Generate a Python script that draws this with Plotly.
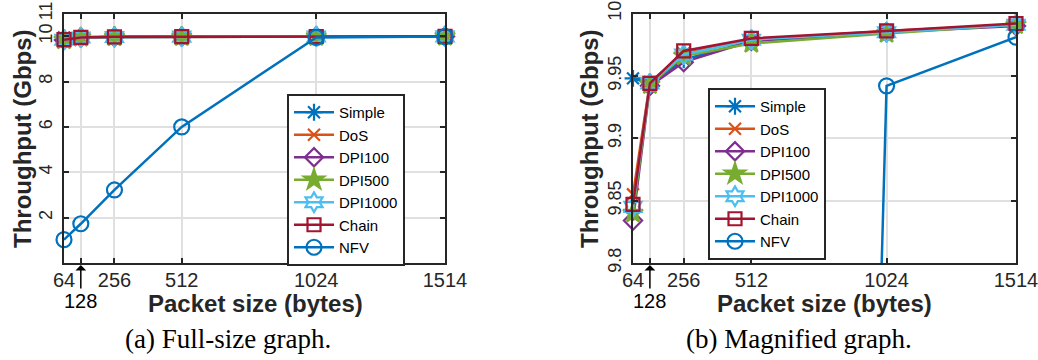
import plotly.graph_objects as go

sizes = [64, 128, 256, 512, 1024, 1514]
simple = [9.948, 9.944, 9.963, 9.978, 9.985, 9.991]
dos = [9.855, 9.945, 9.968, 9.979, 9.986, 9.991]
dpi100 = [9.834, 9.942, 9.961, 9.978, 9.985, 9.990]
dpi500 = [9.840, 9.943, 9.966, 9.976, 9.984, 9.991]
dpi1000 = [9.845, 9.944, 9.967, 9.979, 9.985, 9.991]
chain = [9.847, 9.944, 9.970, 9.980, 9.986, 9.992]
nfv = [1.03, 1.73, 3.22, 6.0, 9.942, 9.981]

x_tickvals = [64, 128, 256, 512, 1024, 1514]
x_ticktext = ["64", "", "256", "512", "1024", "1514"]
y1_tickvals = [2, 4, 6, 8, 10, 11]
y2_tickvals = [9.8, 9.85, 9.9, 9.95, 10]
y2_ticktext = ["9.8", "9.85", "9.9", "9.95", "10"]

names = ["Simple", "DoS", "DPI100", "DPI500", "DPI1000", "Chain", "NFV"]
series = [simple, dos, dpi100, dpi500, dpi1000, chain, nfv]
colors = ["#0072BD", "#D95319", "#7E2F8E", "#77AC30", "#4DBEEE", "#A2142F", "#0072BD"]
symbols = ["asterisk-open", "x-thin-open", "diamond-open", "star", "hexagram-open",
           "square-open", "circle-open"]
msizes = [14, 12, 14, 15, 15, 13, 15]

# body margin is removed by the post script, so the figure fills the window
OFF = 0
W, H = 1038 - OFF, 360 - OFF
FONT = "Liberation Sans, Arial, sans-serif"
SERIF = "Liberation Serif, DejaVu Serif, serif"
AX = "#262626"

fig = go.Figure()

for side, (xa, ya, leg) in enumerate([("x", "y", "legend"), ("x2", "y2", "legend2")]):
    for i, (n, s) in enumerate(zip(names, series)):
        clip = (side == 1 and n == "NFV")
        fig.add_trace(go.Scatter(
            x=sizes, y=s, name=n, mode="lines+markers",
            xaxis=xa, yaxis=ya, legend=leg,
            line=dict(color=colors[i], width=2.5),
            marker=dict(symbol=symbols[i], size=msizes[i], color=colors[i],
                        line=dict(color=colors[i], width=2.2)),
            cliponaxis=clip,
        ))


def px_x(p):
    return (p - OFF) / W


def px_y(p):
    return 1 - (p - OFF) / H


def axis_common(fsize):
    return dict(
        showline=True, linewidth=2, linecolor=AX, mirror="ticks",
        ticks="inside", ticklen=5, tickwidth=2, tickcolor=AX,
        showgrid=True, gridcolor="#e0e0e0", gridwidth=2, zeroline=False,
        automargin=False, ticklabeloverflow="allow",
        tickfont=dict(family=FONT, size=fsize, color=AX),
    )


ydom = [px_y(263), px_y(13.5)]
legend_common = dict(xanchor="center", yanchor="top",
                     bgcolor="white", bordercolor=AX, borderwidth=2,
                     font=dict(family=FONT, size=15, color="black"),
                     tracegroupgap=0, itemwidth=40)
fig.update_layout(
    width=W, height=H,
    margin=dict(l=0, r=0, t=0, b=0, autoexpand=False),
    paper_bgcolor="white", plot_bgcolor="white",
    xaxis=dict(domain=[px_x(64), px_x(445)], range=[64, 1514],
               tickvals=x_tickvals, ticktext=x_ticktext, anchor="y",
               ticklabelstandoff=-2, **axis_common(20)),
    yaxis=dict(domain=ydom, range=[0, 11], tickvals=y1_tickvals, tickangle=-90,
               anchor="x", ticklabelstandoff=3, **axis_common(18)),
    xaxis2=dict(domain=[px_x(633), px_x(1016)], range=[64, 1514],
                tickvals=x_tickvals, ticktext=x_ticktext, anchor="y2",
                ticklabelstandoff=-2, **axis_common(20)),
    yaxis2=dict(domain=ydom, range=[9.8, 10], tickvals=y2_tickvals, ticktext=y2_ticktext,
                tickangle=-90, anchor="x2", ticklabelstandoff=3, **axis_common(18)),
    legend=dict(x=px_x(346), y=px_y(94), **legend_common),
    legend2=dict(x=px_x(767), y=px_y(88), **legend_common),
    showlegend=True,
)

annots = []
C = dict(xref="paper", yref="paper", showarrow=False, xanchor="center", yanchor="middle")
for cx in (255, 824):
    annots.append(dict(text="<b>Packet size (bytes)</b>", x=px_x(cx), y=px_y(303),
                       font=dict(family=FONT, size=24, color=AX), **C))
for cx in (22, 589):
    annots.append(dict(text="<b>Throughput (Gbps)</b>", x=px_x(cx), y=px_y(139),
                       textangle=-90, font=dict(family=FONT, size=24, color=AX), **C))
for xr in ("x", "x2"):
    annots.append(dict(text="128", x=128, y=px_y(265), xref=xr, yref="paper",
                       showarrow=True, ax=0, ay=36, arrowhead=1, arrowsize=1.2,
                       arrowwidth=1.5, arrowcolor="black",
                       font=dict(family=FONT, size=20, color="black")))
annots.append(dict(text="(a) Full-size graph.", x=px_x(228), y=px_y(339),
                   font=dict(family=SERIF, size=27, color="black"), **C))
annots.append(dict(text="(b) Magnified graph.", x=px_x(799), y=px_y(339),
                   font=dict(family=SERIF, size=27, color="black"), **C))
fig.update_layout(annotations=annots)

fig.write_html("out.html",
               config={"displayModeBar": False},
               post_script="document.body.style.margin='0px';"
                           "document.body.style.overflow='hidden';")
